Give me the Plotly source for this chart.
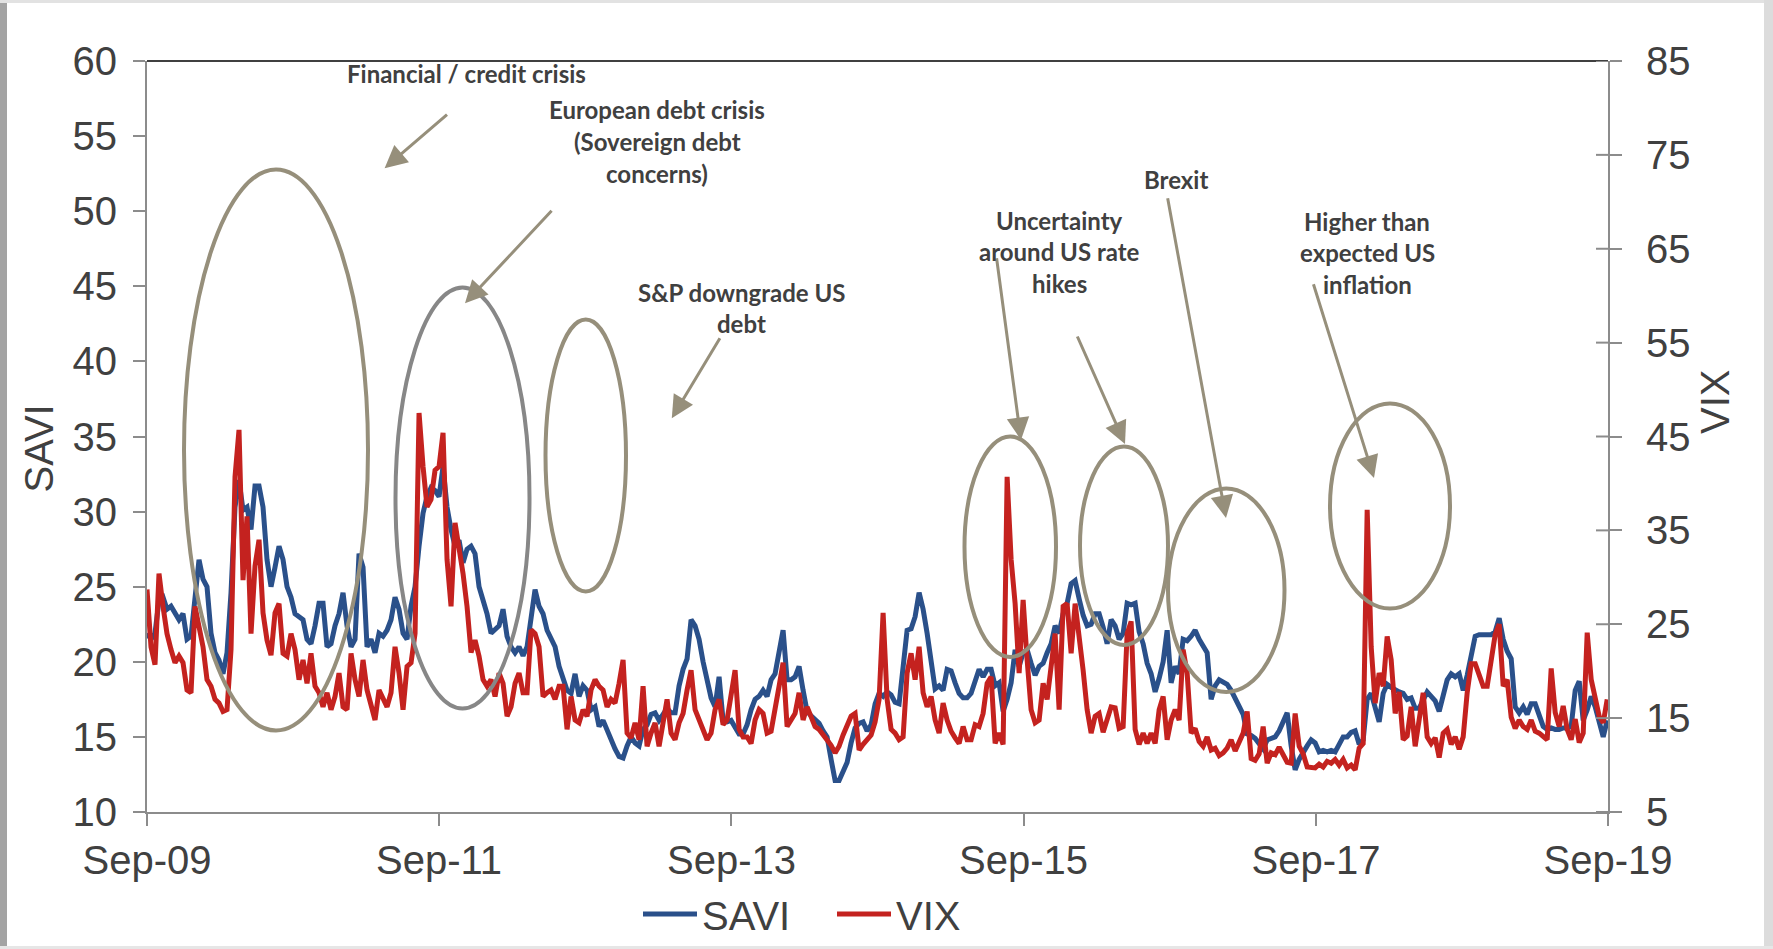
import pandas as pd
import plotly.graph_objects as go

# Samples every 10 days from Sep 2009 to Aug 2019
dates = pd.date_range("2009-09-01", periods=366, freq="10D")

savi = [
    21.9, 21.5, 21.9, 24.1, 24.3, 23.5, 23.7, 23.2, 22.8, 23.2, 21.5, 21.7, 24.3, 26.8, 25.5, 25.0,
    21.9, 20.6, 20.1, 19.2, 20.6, 24.6, 30.3, 32.1, 30.1, 30.3, 28.8, 31.7, 31.7, 30.3, 26.8, 25.0,
    26.3, 27.7, 26.8, 25.0, 24.3, 23.2, 23.0, 22.8, 21.5, 21.2, 22.4, 23.9, 23.9, 21.0, 21.2, 22.4,
    23.2, 24.6, 22.4, 21.0, 21.5, 27.2, 26.3,
    21.0, 21.5, 20.6, 21.9, 21.7, 22.1, 22.8, 24.3, 23.5, 21.9, 21.5, 23.7, 25.0, 27.7, 29.9, 31.0,
    31.6, 31.4, 31.0, 33.0, 30.3, 28.8, 27.7, 28.1, 26.6, 27.5, 27.7, 27.2, 25.0, 24.1, 23.2, 21.9,
    22.1, 22.4, 23.5, 21.7, 21.0, 20.6, 21.0, 20.4, 21.0, 22.8, 24.8, 23.7, 23.2, 22.1, 21.5, 21.0,
    19.7, 19.0, 18.1, 17.9, 19.2, 17.7, 18.4, 18.1, 16.8, 17.0, 15.7,
    16.1, 15.4, 14.7, 14.2, 13.7, 13.6, 14.4, 15.0, 14.6, 14.4, 15.5, 15.8, 16.5, 16.6, 16.1, 16.5,
    16.9, 16.6, 16.6, 18.4, 19.5, 20.2, 22.8, 22.4, 21.5, 20.0, 18.6, 17.6, 17.0, 19.0, 16.1, 16.0,
    16.1, 15.7, 15.2, 15.2, 15.8, 16.8, 17.5, 17.7, 18.1, 17.7, 18.8, 19.2, 20.8, 22.1, 18.8, 18.8,
    19.0, 19.7, 18.1, 16.7, 16.4, 16.1, 15.9, 15.4, 15.0, 13.5, 12.1,
    12.1, 12.7, 13.3, 14.6, 15.6, 15.9, 16.0, 15.4, 15.8, 17.2, 17.9, 17.7, 18.0, 17.8, 17.3, 17.2,
    20.1, 22.1, 22.2, 23.0, 24.6, 23.5, 21.9, 19.9, 18.2, 18.4, 18.1, 19.5, 19.4, 18.6, 17.9, 17.6,
    17.6, 17.9, 18.7, 19.5, 19.0, 19.5, 19.5, 18.4, 18.6, 16.7, 17.5, 18.6, 20.8, 19.7, 20.6, 20.8,
    19.9, 19.1, 19.7, 19.9, 20.6, 21.2, 22.4, 21.9, 23.2, 23.9, 25.2, 25.4,
    24.2, 23.1, 22.4, 22.5, 23.2, 23.2, 22.3, 21.2, 22.8, 22.4, 21.5, 21.9, 23.9, 23.8, 23.9, 22.0,
    21.2, 19.9, 19.2, 18.0, 18.9, 20.0, 22.1, 18.6, 19.7, 19.2, 21.5, 21.4, 21.7, 22.1, 21.5, 21.0,
    20.6, 17.5, 18.4, 18.8, 18.6, 18.5, 18.1, 17.6, 17.0, 16.5, 15.2, 15.1, 14.9, 14.6, 14.2, 14.8,
    14.9, 15.0, 15.4, 16.0, 16.6, 14.4, 12.8, 13.5, 14.0, 14.4, 14.8,
    14.6, 14.0, 14.1, 14.0, 14.1, 14.0, 14.5, 15.0, 15.0, 15.3, 15.4, 14.5, 14.8, 17.5, 17.9, 16.8,
    16.0, 17.9, 18.5, 18.3, 18.1, 18.0, 17.9, 17.5, 17.6, 16.9, 16.9, 17.5, 18.0, 17.7, 17.4, 16.7,
    17.7, 18.8, 19.2, 19.0, 19.2, 18.1, 19.1, 20.4, 21.7, 21.8, 21.8, 21.8, 21.8, 22.0, 22.9, 21.5,
    20.7, 20.2, 17.0, 16.6, 17.0, 16.5, 17.2, 17.2, 16.5, 15.7, 15.5, 15.6,
    15.5, 15.5, 15.6, 15.6, 15.7, 18.1, 18.7, 16.1, 16.8, 17.7, 17.0, 15.9, 15.0, 16.1,
]

vix = [
    28.7, 22.6, 20.7, 30.4, 26.9, 24.0, 22.3, 20.9, 21.6, 20.9, 18.0, 17.7, 26.9, 24.4, 22.6, 19.1,
    18.4, 17.0, 16.6, 15.7, 15.9, 22.3, 40.7, 45.7, 29.7, 36.5, 24.0, 31.2, 34.0, 26.2, 23.3, 21.7,
    26.2, 27.2, 21.9, 21.6, 24.0, 22.3, 19.1, 21.2, 18.7, 21.9, 18.4, 17.7, 16.2, 17.7, 15.9, 17.3,
    19.8, 16.2, 15.9, 21.9, 19.1, 17.3, 21.2,
    18.0, 16.6, 14.8, 18.0, 17.0, 16.2, 17.7, 22.6, 19.8, 15.9, 20.5, 20.9, 24.0, 47.5, 41.8, 37.5,
    38.3, 41.4, 41.8, 45.4, 31.9, 26.9, 35.8, 33.3, 30.4, 26.9, 22.0, 23.3, 21.6, 19.1, 18.4, 19.1,
    17.3, 19.8, 18.7, 15.2, 16.2, 18.7, 19.8, 17.7, 17.7, 24.4, 24.0, 22.6, 17.3, 17.7, 18.0, 17.0,
    18.4, 18.4, 13.8, 17.3, 14.8, 14.5, 15.9, 15.2, 18.0, 19.1, 18.4,
    18.0, 16.2, 17.0, 16.6, 18.7, 21.2, 13.4, 12.9, 14.5, 12.7, 18.4, 12.0, 13.4, 14.5, 12.0, 14.8,
    17.0, 13.4, 12.7, 14.5, 15.5, 18.0, 20.1, 15.9, 14.8, 13.6, 12.7, 13.4, 15.9, 17.0, 14.3, 14.8,
    17.7, 20.1, 13.8, 13.0, 13.0, 12.3, 14.8, 15.9, 15.5, 13.4, 13.6, 15.7, 18.4, 20.9, 14.1, 14.8,
    15.5, 17.7, 14.8, 16.2, 15.2, 14.1, 13.8, 13.3, 12.7, 12.1, 11.3,
    12.0, 13.2, 14.3, 15.2, 15.5, 11.6, 12.2, 12.7, 13.2, 14.6, 17.0, 26.2, 17.0, 13.8, 13.4, 12.7,
    13.0, 19.8, 21.9, 19.1, 22.6, 17.7, 16.2, 17.3, 14.8, 13.4, 16.6, 14.8, 13.6, 12.9, 12.3, 14.1,
    12.7, 12.7, 14.3, 14.1, 15.5, 18.7, 19.4, 12.3, 13.4, 12.2, 40.7, 31.9, 27.2, 19.8, 27.6, 21.2,
    15.9, 14.5, 14.8, 18.7, 17.0, 20.5, 24.0, 15.9, 26.9, 27.2, 21.9, 27.2,
    24.0, 20.1, 15.9, 13.4, 15.2, 15.5, 13.5, 14.8, 16.2, 16.1, 13.9, 14.1, 24.0, 25.3, 13.8, 12.2,
    13.4, 12.3, 13.4, 12.3, 15.9, 17.3, 12.7, 14.8, 15.9, 14.8, 22.3, 19.8, 13.4, 13.9, 12.5, 12.0,
    13.0, 11.6, 11.8, 11.0, 11.3, 11.8, 12.7, 11.5, 12.6, 13.4, 15.7, 10.7, 10.5, 11.2, 14.1, 10.2,
    11.3, 11.1, 11.9, 11.2, 10.3, 10.2, 15.5, 12.0, 11.2, 9.8, 9.7,
    9.7, 10.1, 9.8, 10.4, 10.2, 10.6, 10.0, 10.6, 9.7, 10.0, 9.5, 11.8, 12.3, 37.2, 22.6, 16.6,
    19.8, 18.4, 23.7, 21.2, 15.5, 17.8, 12.7, 13.1, 16.2, 12.0, 14.5, 17.7, 13.0, 12.3, 12.9, 10.8,
    13.4, 13.8, 12.2, 13.0, 11.7, 13.0, 17.7, 20.8, 20.8, 19.4, 18.4, 18.4, 21.4, 23.9, 25.0, 18.4,
    19.1, 15.1, 13.9, 14.8, 14.1, 13.8, 14.8, 13.6, 13.4, 13.0, 12.7, 20.3,
    15.6, 14.1, 16.3, 13.8, 12.7, 14.9, 12.4, 13.4, 24.1, 19.1, 17.0, 15.2, 14.5, 17.0,
]

tick_dates = ["2009-09-01", "2011-09-01", "2013-09-01", "2015-09-01", "2017-09-01", "2019-09-01"]
tick_labels = ["Sep-09", "Sep-11", "Sep-13", "Sep-15", "Sep-17", "Sep-19"]
savi_ticks = [10, 15, 20, 25, 30, 35, 40, 45, 50, 55, 60]
vix_ticks = [5, 15, 25, 35, 45, 55, 65, 75, 85]

# Event call-outs: (text lines, centre x, first-line y) in pixels
events = [
    (["Financial / credit crisis"], 466, 74),
    (["European debt crisis", "(Sovereign debt", "concerns)"], 657, 110),
    (["S&P downgrade US", "debt"], 741, 292),
    (["Uncertainty", "around US rate", "hikes"], 1059, 220),
    (["Brexit"], 1176, 179),
    (["Higher than", "expected US", "inflation"], 1367, 221),
]

W, H = 1773, 949
L, R, T, B = 147, 1608, 61, 812

BLUE = "#2A508A"
RED = "#C4221F"
TAN = "#968F7B"
GREY_OVAL = "#878787"
AXIS = "#8C8C8C"
TEXT = "#404040"
TICK_FONT = dict(family="Liberation Sans, Arial, sans-serif", size=40, color=TEXT)


def fx(px):
    return (px - L) / (R - L)


def fy(py):
    return (B - py) / (B - T)


fig = go.Figure()
fig.add_trace(go.Scatter(x=dates, y=savi, name="SAVI", mode="lines",
                         line=dict(color=BLUE, width=5), yaxis="y"))
fig.add_trace(go.Scatter(x=dates, y=vix, name="VIX", mode="lines",
                         line=dict(color=RED, width=5), yaxis="y2"))

shapes = []
# plot-area top border
shapes.append(dict(type="line", xref="paper", yref="paper", x0=0, x1=1, y0=1, y1=1,
                   line=dict(color="black", width=1.5)))
# inner half of the right-axis cross ticks
for v in vix_ticks:
    shapes.append(dict(type="line", xref="paper", yref="y2", x0=1 - 12 / (R - L), x1=1,
                       y0=v, y1=v, line=dict(color=AXIS, width=2)))

# ovals around the volatility episodes (pixel bounds)
ovals = [
    (184, 368, 169.5, 730.5, TAN),
    (395.5, 529.5, 287.5, 708.5, GREY_OVAL),
    (545.5, 626, 319.5, 591.5, TAN),
    (964.5, 1056, 436.5, 657, TAN),
    (1080, 1168, 446.5, 645, TAN),
    (1168, 1284.5, 488.5, 692, TAN),
    (1330, 1450, 403.5, 608.5, TAN),
]
for x0, x1, y0, y1, c in ovals:
    shapes.append(dict(type="circle", xref="paper", yref="paper",
                       x0=fx(x0), x1=fx(x1), y0=fy(y1), y1=fy(y0),
                       line=dict(color=c, width=4)))

# page frame
frame = [
    (0, 7, 0, 949, "#A3A3A3"),
    (0, 1773, 0, 3, "#E2E2E2"),
    (1764, 1773, 0, 949, "#DCDCDC"),
    (0, 1773, 946, 949, "#E6E6E6"),
]
for x0, x1, y0, y1, c in frame:
    shapes.append(dict(type="rect", xref="paper", yref="paper",
                       x0=fx(x0), x1=fx(x1), y0=fy(y1), y1=fy(y0),
                       fillcolor=c, line=dict(width=0), layer="above"))

annotations = []
# arrows: (tail x, tail y, tip x, tip y) in pixels
arrows = [
    (448.5, 113.3, 384.6, 168.3),
    (553, 209.3, 465, 303.3),
    (720.8, 336.7, 671.8, 418.3),
    (996.4, 256.7, 1021, 440),
    (1076.7, 335, 1125, 444),
    (1167.4, 196.7, 1226, 518),
    (1313, 282.7, 1374, 478),
]
for tx, ty, hx, hy in arrows:
    annotations.append(dict(xref="paper", yref="paper", x=fx(hx), y=fy(hy),
                            ax=tx - hx, ay=ty - hy, text="", showarrow=True,
                            arrowhead=2, arrowsize=1.5, arrowwidth=3, arrowcolor=TAN,
                            standoff=0, startstandoff=0))

LINE_PITCH = 31.6
for lines, cx, y0 in events:
    for i, s in enumerate(lines):
        annotations.append(dict(xref="paper", yref="paper", x=fx(cx), y=fy(y0 + i * LINE_PITCH),
                                text=s, showarrow=False, xanchor="center", yanchor="middle",
                                font=dict(family="Lato, sans-serif", size=24, color=TEXT,
                                          weight="bold")))

# axis titles
annotations.append(dict(xref="paper", yref="paper", x=fx(38.5), y=fy(449), text="SAVI",
                        textangle=-90, showarrow=False, xanchor="center", yanchor="middle",
                        font=TICK_FONT))
annotations.append(dict(xref="paper", yref="paper", x=fx(1714.5), y=fy(402.5), text="VIX",
                        textangle=-90, showarrow=False, xanchor="center", yanchor="middle",
                        font=TICK_FONT))

fig.update_layout(
    width=W, height=H,
    margin=dict(l=L, r=W - R, t=T, b=H - B, autoexpand=False),
    paper_bgcolor="white", plot_bgcolor="white",
    showlegend=True,
    legend=dict(orientation="h", x=fx(638), y=fy(914), xanchor="left", yanchor="middle",
                font=TICK_FONT, bgcolor="rgba(0,0,0,0)", itemwidth=54, tracegroupgap=0,
                entrywidth=125, entrywidthmode="pixels"),
    xaxis=dict(type="date", range=["2009-09-01", "2019-09-01"],
               tickvals=tick_dates, ticktext=tick_labels,
               ticks="outside", ticklen=12, tickwidth=2, tickcolor=AXIS,
               showline=True, linecolor=AXIS, linewidth=2,
               showgrid=False, zeroline=False, tickfont=TICK_FONT),
    yaxis=dict(range=[10, 60], tickvals=savi_ticks,
               ticks="outside", ticklen=12, tickwidth=2, tickcolor=AXIS,
               showline=True, linecolor=AXIS, linewidth=2, ticklabelstandoff=8,
               showgrid=False, zeroline=False, tickfont=TICK_FONT),
    yaxis2=dict(range=[5, 85], tickvals=vix_ticks, overlaying="y", side="right",
                ticks="outside", ticklen=12, tickwidth=2, tickcolor=AXIS,
                showline=True, linecolor=AXIS, linewidth=2, ticklabelstandoff=16,
                showgrid=False, zeroline=False, tickfont=TICK_FONT),
    shapes=shapes,
    annotations=annotations,
)

fig.write_html("out.html")
